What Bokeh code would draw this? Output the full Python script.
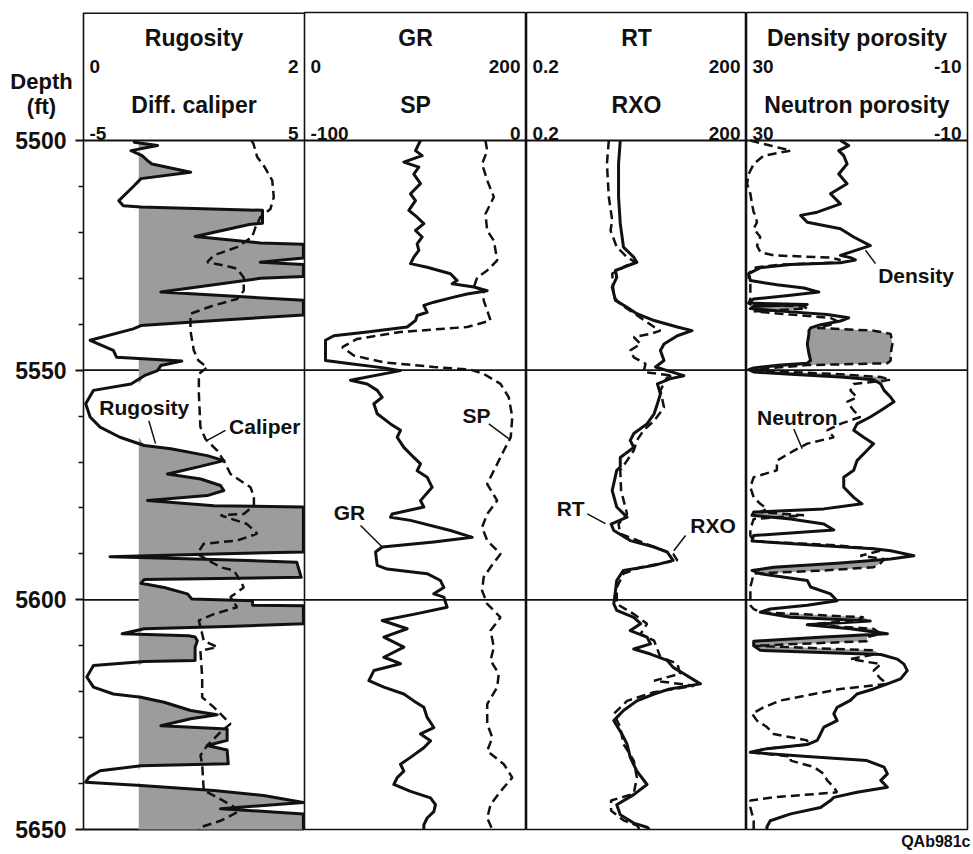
import numpy as np
from bokeh.plotting import figure
from bokeh.layouts import row
from bokeh.models import Range1d, FixedTicker, Span, Title, LinearAxis
from bokeh.embed import file_html
from bokeh.resources import INLINE
from bokeh.core.properties import value

# ---------------- data ----------------
# Track 1: rugosity (0-2) and differential caliper (-5..5)
rug_depth = [5500.0, 5500.4, 5501.1, 5502.2, 5503.3, 5504.4, 5505.1, 5506.9, 5508.3, 5509.8,
             5513.1, 5514.2, 5514.5, 5515.2, 5518.0, 5518.3, 5520.9, 5522.3, 5522.6, 5525.6,
             5526.0, 5526.5, 5527.0, 5529.6, 5530.0, 5533.0, 5534.8, 5538.0, 5539.0, 5540.3,
             5541.0, 5543.5, 5545.7, 5547.2, 5548.0, 5549.0, 5550.1, 5551.2, 5553.0, 5554.4,
             5557.3, 5560.2, 5562.4, 5564.6, 5566.4, 5567.1, 5568.6, 5569.7, 5571.1, 5572.6,
             5573.7, 5575.1, 5576.2, 5577.3, 5578.4, 5579.5, 5579.8, 5589.6, 5590.0, 5590.6,
             5591.2, 5591.8, 5595.1, 5595.6, 5596.4, 5597.3, 5598.7, 5599.8, 5600.2, 5601.2,
             5601.3, 5605.2, 5605.8, 5606.3, 5607.4, 5607.8, 5608.1, 5608.9, 5610.3, 5613.2,
             5613.4, 5614.3, 5616.8, 5619.0, 5620.5, 5621.2, 5622.3, 5624.1, 5625.0, 5625.9,
             5627.4, 5628.1, 5630.6, 5631.7, 5632.7, 5635.7, 5636.1, 5637.2, 5638.6, 5639.7,
             5640.4, 5641.5, 5642.6, 5644.1, 5645.5, 5646.6, 5650.0]
rugosity = [0.46, 0.46, 0.67, 0.43, 0.53, 0.58, 0.62, 0.97, 0.52, 0.46,
            0.32, 0.36, 0.52, 1.62, 1.62, 1.50, 1.01, 1.60, 1.99, 1.99,
            1.80, 1.60, 1.99, 1.99, 1.60, 0.70, 1.99, 1.99, 1.30, 0.52,
            0.45, 0.06, 0.27, 0.30, 0.89, 0.70, 0.67, 0.55, 0.43, 0.09,
            0.02, 0.06, 0.15, 0.33, 0.55, 0.79, 1.12, 1.27, 1.03, 0.76,
            1.06, 1.24, 1.27, 1.12, 0.58, 1.18, 1.99, 1.99, 1.18, 0.24,
            1.18, 1.93, 1.97, 0.55, 0.52, 0.73, 0.94, 0.98, 1.53, 1.53,
            1.99, 1.99, 1.30, 0.55, 0.35, 0.95, 1.01, 1.03, 1.01, 1.01,
            0.55, 0.09, 0.03, 0.09, 0.27, 0.52, 0.73, 0.97, 1.21, 0.97,
            0.70, 1.30, 1.30, 1.12, 1.30, 1.31, 0.52, 0.15, 0.05, 0.02,
            0.52, 1.18, 1.63, 1.99, 1.24, 1.99, 1.99]

cal_depth = [5500.0, 5500.7, 5503.6, 5505.8, 5508.7, 5512.3, 5514.9, 5516.7, 5518.9, 5521.0,
             5523.2, 5525.0, 5526.5, 5527.2, 5527.9, 5529.8, 5532.7, 5534.5, 5535.9, 5537.7,
             5541.4, 5545.7, 5547.9, 5549.4, 5550.8, 5555.2, 5562.4, 5565.0, 5567.5, 5569.7,
             5572.6, 5575.5, 5577.6, 5579.5, 5581.3, 5581.6, 5583.5, 5585.6, 5587.1, 5587.8,
             5590.0, 5592.9, 5593.6, 5595.8, 5597.3, 5599.4, 5601.6, 5603.1, 5604.5, 5607.4,
             5608.9, 5610.3, 5611.1, 5616.8, 5621.2, 5623.4, 5627.0, 5628.8, 5631.7, 5633.9,
             5635.7, 5641.5, 5643.0, 5645.9, 5648.1, 5649.5, 5650.0]
caliper = [2.6, 2.69, 2.86, 3.2, 3.54, 3.61, 3.46, 3.0, 2.78, 2.63,
           1.95, 0.90, 0.60, 1.35, 1.95, 2.25, 2.25, 1.95, 0.90, -0.16,
           -0.16, -0.01, 0.2, 0.60, 0.22, 0.22, 0.29, 0.52, 1.05, 1.35,
           1.65, 2.56, 2.71, 2.71, 2.25, 1.2, 2.4, 2.86, 1.95, 0.44,
           0.14, 1.2, 1.8, 2.1, 2.25, 1.65, 1.95, 0.90, 0.22, 0.37,
           0.44, 1.05, 0.29, 0.37, 0.37, 0.90, 1.65, 1.2, 0.6, 0.29,
           0.37, 0.44, 1.05, 2.1, 1.2, 0.29, 0.2]

# Track 2: GR (0-200 API) and SP (-100..0 mV)
gr_depth = [5500.0, 5502.2, 5503.3, 5504.7, 5505.8, 5507.3, 5509.4, 5511.6, 5513.1, 5515.2,
            5516.7, 5518.1, 5519.6, 5521.0, 5522.5, 5523.9, 5525.4, 5526.8, 5527.6, 5529.0,
            5530.5, 5531.2, 5531.9, 5532.7, 5533.4, 5534.1, 5535.2, 5535.9, 5537.4, 5538.1,
            5539.2, 5540.6, 5541.7, 5542.5, 5543.5, 5547.9, 5548.6, 5549.5, 5550.1, 5552.2,
            5553.0, 5554.4, 5555.9, 5557.3, 5559.5, 5561.7, 5563.1, 5564.6, 5566.8, 5569.0,
            5570.4, 5571.9, 5573.3, 5575.5, 5578.4, 5579.8, 5581.3, 5582.0, 5582.7, 5584.9,
            5586.4, 5587.4, 5588.5, 5589.6, 5592.5, 5593.3, 5594.3, 5595.8, 5597.3, 5598.7,
            5599.4, 5601.6, 5603.0, 5604.5, 5606.3, 5608.1, 5610.3, 5612.5, 5613.9, 5615.4,
            5617.6, 5619.0, 5620.5, 5622.0, 5623.4, 5625.6, 5627.8, 5629.2, 5630.7, 5632.2,
            5634.3, 5635.8, 5637.3, 5638.7, 5640.2, 5641.7, 5643.1, 5644.6, 5646.1, 5647.5,
            5649.0, 5650.0]
gr = [104.5, 100.0, 106.0, 89.5, 103.0, 98.5, 104.5, 95.5, 100.0, 94.0,
      101.5, 107.5, 100.0, 106.0, 101.5, 103.0, 98.5, 95.5, 110.5, 131.5,
      137.5, 133.0, 152.6, 164.6, 146.5, 134.5, 116.5, 107.5, 110.5, 101.5,
      100.0, 92.5, 56.5, 26.4, 18.9, 18.9, 41.4, 71.5, 86.5, 41.4,
      56.5, 65.5, 70.0, 62.5, 65.5, 77.5, 86.5, 83.5, 89.5, 98.5,
      104.5, 101.5, 110.5, 115.0, 104.5, 107.5, 79.0, 77.5, 95.5, 131.5,
      151.1, 116.5, 70.0, 64.0, 65.5, 74.5, 110.5, 122.5, 125.5, 116.5,
      125.5, 128.5, 101.5, 70.0, 92.5, 71.5, 89.5, 71.5, 86.5, 62.5,
      58.0, 71.5, 89.5, 98.5, 107.5, 110.5, 116.5, 104.5, 113.5, 107.5,
      95.5, 86.5, 89.5, 83.5, 80.5, 95.5, 113.5, 118.0, 116.5, 110.5,
      107.5, 107.5]

sp_depth = [5500.0, 5502.2, 5505.1, 5508.7, 5512.3, 5516.0, 5519.6, 5521.8, 5526.1, 5528.3,
            5529.8, 5531.9, 5532.7, 5534.8, 5537.0, 5539.2, 5540.6, 5541.7, 5543.2, 5545.0,
            5546.8, 5548.3, 5549.3, 5549.9, 5550.8, 5553.0, 5555.9, 5560.2, 5564.6, 5567.5,
            5570.4, 5573.3, 5574.8, 5578.4, 5581.3, 5584.2, 5587.1, 5590.0, 5592.9, 5595.1,
            5598.0, 5600.9, 5603.8, 5606.7, 5610.3, 5613.2, 5616.1, 5619.0, 5622.7, 5627.0,
            5630.0, 5632.9, 5635.8, 5638.7, 5641.7, 5644.6, 5647.5, 5650.0]
sp = [-18.5, -17.7, -20.0, -17.7, -14.7, -18.5, -17.7, -14.7, -13.2, -17.7,
      -22.2, -23.7, -19.3, -19.3, -17.7, -16.2, -26.7, -56.8, -76.3, -83.0,
      -77.8, -64.3, -41.7, -25.2, -19.3, -11.7, -8.0, -6.4, -7.1, -10.2,
      -13.2, -16.2, -17.7, -13.2, -17.7, -20.0, -17.7, -11.7, -16.2, -19.3,
      -20.0, -17.7, -11.7, -16.2, -14.7, -16.2, -12.5, -13.2, -17.7, -17.7,
      -15.4, -17.7, -10.2, -6.4, -11.7, -16.2, -17.7, -15.4]

# Track 3: RT and RXO (ohm-m, log 0.2-200)
rt_depth = [5500.0, 5505.1, 5512.3, 5518.1, 5523.2, 5525.4, 5526.5, 5527.6, 5528.3, 5529.8,
            5531.9, 5534.8, 5536.3, 5537.7, 5539.2, 5540.6, 5541.4, 5542.5, 5544.3, 5545.7,
            5547.9, 5549.3, 5550.1, 5551.2, 5551.9, 5553.0, 5555.2, 5557.3, 5559.5, 5561.7,
            5563.8, 5565.3, 5566.8, 5569.0, 5571.1, 5571.8, 5576.2, 5579.8, 5582.0, 5583.5,
            5584.9, 5587.1, 5588.5, 5589.6, 5591.4, 5592.5, 5593.6, 5595.8, 5600.9, 5602.3,
            5603.8, 5605.2, 5606.7, 5608.1, 5609.6, 5610.7, 5611.8, 5613.2, 5614.7, 5616.1,
            5618.3, 5619.4, 5620.5, 5622.0, 5624.1, 5626.3, 5629.2, 5631.4, 5634.3, 5637.3,
            5640.2, 5642.4, 5644.6, 5646.8, 5648.6, 5649.5, 5650.0]
rt = [3.8, 3.6, 3.6, 3.8, 4.2, 5.8, 6.4, 4.2, 3.27, 3.4,
      2.95, 3.27, 4.7, 6.4, 11.0, 22.8, 36.2, 22.8, 15.0, 13.4,
      15.0, 11.5, 16.6, 28.0, 18.0, 12.2, 13.4, 12.2, 11.0, 8.8,
      5.8, 5.2, 5.8, 3.8, 3.8, 3.4, 2.95, 3.4, 4.7, 2.85,
      3.1, 5.2, 11.0, 16.6, 20.0, 11.0, 4.2, 3.4, 3.1, 3.4,
      5.8, 7.2, 5.2, 8.8, 9.8, 5.8, 9.8, 16.6, 20.0, 28.0,
      47.0, 18.0, 11.0, 6.4, 4.2, 3.1, 4.0, 4.7, 5.2, 6.4,
      8.8, 5.8, 3.4, 3.8, 5.8, 8.8, 9.5]

rxo_depth = [5500.0, 5505.1, 5512.3, 5517.4, 5519.6, 5523.2, 5525.4, 5526.5, 5527.2, 5529.0,
             5534.1, 5535.6, 5540.6, 5541.4, 5542.1, 5542.8, 5544.3, 5545.7, 5547.2, 5548.6,
             5550.4, 5551.2, 5551.5, 5554.4, 5558.1, 5561.0, 5563.1, 5565.3, 5567.5, 5569.7,
             5571.8, 5576.2, 5581.3, 5583.5, 5585.6, 5588.5, 5590.0, 5591.4, 5592.9, 5594.3,
             5597.3, 5600.9, 5603.1, 5605.2, 5607.4, 5608.9, 5612.5, 5613.9, 5616.1, 5617.6,
             5618.7, 5620.1, 5622.0, 5624.8, 5627.7, 5631.4, 5635.0, 5638.7, 5642.2, 5643.7,
             5645.9, 5648.0, 5649.1, 5650.0]
rxo = [2.65, 2.5, 2.65, 2.95, 2.8, 3.4, 4.7, 6.1, 4.7, 2.95,
       3.1, 3.8, 11.0, 13.4, 9.8, 5.8, 7.2, 5.2, 5.8, 8.4,
       7.9, 20.0, 16.6, 13.4, 15.0, 11.0, 7.9, 6.4, 5.8, 4.7,
       3.8, 3.9, 4.7, 3.6, 3.8, 11.0, 20.0, 22.8, 7.2, 4.2,
       3.4, 3.4, 5.8, 8.8, 7.2, 11.0, 13.4, 22.8, 24.9, 11.0,
       38.6, 11.0, 4.7, 3.1, 3.8, 4.2, 5.8, 6.4, 5.8, 2.85,
       2.85, 4.2, 6.4, 7.0]

# Track 4: density and neutron porosity (%, 30..-10), common depths
por_depth = [5500.0, 5501.1, 5502.2, 5503.3, 5505.1, 5507.3, 5509.4, 5511.6, 5513.8, 5515.6,
             5516.3, 5517.8, 5519.2, 5521.0, 5522.9, 5524.3, 5525.0, 5525.5, 5526.0, 5526.6,
             5527.0, 5527.7, 5529.0, 5530.5, 5531.4, 5532.1, 5533.0, 5533.7, 5534.5, 5535.4,
             5535.7, 5536.1, 5536.6, 5537.2, 5537.9, 5538.6, 5539.3, 5540.1, 5540.8, 5541.4,
             5542.1, 5544.3, 5546.4, 5547.9, 5548.5, 5548.9, 5549.5, 5549.9, 5550.4, 5550.9,
             5551.5, 5552.1, 5553.0, 5554.4, 5555.9, 5556.9, 5558.8, 5560.2, 5561.7, 5563.1,
             5564.6, 5566.0, 5567.5, 5569.7, 5571.8, 5573.3, 5575.5, 5577.7, 5579.1, 5580.2,
             5580.9, 5581.6, 5582.4, 5583.5, 5584.8, 5586.0, 5587.2, 5588.2, 5588.9, 5589.3,
             5590.4, 5591.1, 5592.0, 5592.9, 5593.6, 5594.3, 5595.8, 5597.2, 5598.7, 5600.2,
             5601.2, 5602.0, 5602.7, 5603.8, 5604.6, 5605.4, 5606.3, 5607.4, 5608.1, 5609.0,
             5610.0, 5611.0, 5611.9, 5612.9, 5614.0, 5615.4, 5617.2, 5618.3, 5619.4, 5620.5,
             5621.9, 5623.4, 5624.8, 5626.3, 5627.7, 5629.2, 5630.6, 5631.5, 5632.4, 5633.2,
             5634.1, 5635.0, 5636.4, 5637.9, 5639.3, 5640.8, 5641.9, 5643.0, 5643.7, 5645.2,
             5646.6, 5648.1, 5649.4, 5650.0]
density = [13.0, 11.5, 13.3, 12.4, 11.8, 13.3, 11.8, 14.8, 13.0, 17.2,
           20.2, 19.0, 13.0, 10.6, 7.6, 11.2, 13.0, 11.2, 10.3, 13.0,
           22.0, 27.5, 29.6, 29.3, 24.5, 19.6, 16.9, 22.0, 28.7, 29.6,
           19.0, 28.7, 29.3, 23.2, 15.4, 11.5, 13.0, 16.6, 18.4, 18.7,
           18.7, 19.0, 18.7, 18.4, 19.0, 23.8, 28.7, 29.6, 28.7, 22.0,
           13.0, 7.0, 5.7, 5.1, 3.9, 3.3, 5.7, 7.6, 10.0, 10.6,
           8.8, 7.0, 8.2, 10.0, 10.6, 12.4, 12.4, 10.6, 9.1, 16.0,
           28.7, 29.0, 22.0, 16.0, 14.2, 28.7, 29.0, 16.0, 7.0, 3.9,
           -0.3, 3.9, 13.0, 25.1, 29.0, 27.5, 19.0, 18.4, 14.8, 13.6,
           19.0, 25.7, 27.5, 22.0, 7.6, 19.0, 11.2, 4.5, 16.0, 28.7,
           28.7, 27.5, 5.7, 2.7, 1.5, 0.9, 2.1, 4.5, 7.0, 10.0,
           11.2, 13.6, 14.2, 13.6, 16.0, 16.6, 17.2, 19.0, 26.3, 29.3,
           19.0, 8.2, 5.1, 4.5, 5.7, 4.5, 10.0, 14.2, 14.8, 16.6,
           22.0, 25.7, 26.3, 26.3]
neutron = [29.3, 25.7, 22.0, 26.9, 28.7, 29.6, 29.9, 29.3, 29.0, 28.7,
           28.4, 28.1, 28.7, 27.5, 28.1, 27.5, 25.1, 14.8, 13.0, 14.2,
           23.8, 28.7, 29.6, 29.6, 29.3, 29.3, 29.3, 29.3, 29.3, 29.6,
           29.3, 19.6, 19.0, 28.7, 22.0, 14.8, 13.6, 14.8, 17.2, 7.0,
           3.9, 3.6, 3.9, 3.9, 4.5, 19.0, 25.1, 28.7, 22.0, 13.0,
           5.7, 3.9, 10.6, 11.2, 10.0, 11.8, 10.6, 9.4, 13.0, 15.4,
           14.2, 19.0, 21.4, 24.5, 24.5, 28.7, 29.3, 28.7, 27.5, 26.3,
           27.5, 19.6, 28.7, 29.0, 29.3, 29.3, 28.7, 13.0, 7.0, 5.7,
           9.4, 5.1, 5.7, 7.0, 16.0, 28.7, 29.0, 29.3, 29.3, 29.3,
           29.3, 28.7, 27.5, 8.8, 11.2, 19.0, 7.0, 5.7, 8.2, 8.2,
           28.7, 7.0, 7.0, 11.2, 5.7, 7.0, 5.7, 4.5, 13.0, 17.8,
           23.8, 26.9, 29.0, 28.1, 26.3, 25.1, 19.0, 19.0, 26.3, 29.3,
           22.0, 22.0, 17.8, 16.0, 15.4, 14.2, 13.6, 25.1, 29.3, 29.3,
           29.0, 28.7, 28.7, 28.7]

# header scales: (name, left value, right value)
track_scales = [
    [("Rugosity", "0", "2"), ("Diff. caliper", "-5", "5")],
    [("GR", "0", "200"), ("SP", "-100", "0")],
    [("RT", "0.2", "200"), ("RXO", "0.2", "200")],
    [("Density porosity", "30", "-10"), ("Neutron porosity", "30", "-10")],
]
depth_ticks = [5500, 5550, 5600, 5650]
depth_minor = [5510, 5520, 5530, 5540, 5560, 5570, 5580, 5590, 5610, 5620, 5630, 5640]
depth_title = ["Depth", "(ft)"]
figure_code = "QAb981c"

# ---------------- layout constants ----------------
FONT = value("Liberation Sans")
PXFT = 689 / 150.0
FRAME_H = 817
TOP = 5650 - FRAME_H / PXFT
EXTRA_BOTTOM = 18                 # px of track-1 frame below 5650 (room for the 5650 label)
INK = "#111111"
SHADE = "#9c9c9c"
SOLID_W = 3.0
DASH_W = 2.5
DASH = "9 5"
GUTTER = 83 / 110.5               # left margin of track 1, in rugosity units

ROW1_Y = 5477.6
ROW2_Y = 5483.9
ROW3_Y = 5492.2
ROW4_Y = 5498.4
GRID_LINES = [(5500, 2.2), (5550, 1.6), (5600, 1.6)]


def make_track(x_range, frame_w, right=0, bottom=25, log=False, extra=0):
    kw = dict(frame_width=frame_w, frame_height=FRAME_H + extra, x_range=x_range,
              y_range=Range1d(5650 + extra / PXFT, TOP), output_backend="svg",
              toolbar_location=None, x_axis_location=None, y_axis_location=None,
              min_border_left=0, min_border_right=right, min_border_top=12,
              min_border_bottom=bottom - extra, background_fill_color="white",
              border_fill_color="white")
    if log:
        kw["x_axis_type"] = "log"
    p = figure(**kw)
    p.outline_line_color = INK
    p.outline_line_width = 1.6
    p.xgrid.visible = False
    p.ygrid.visible = False
    for g in p.grid:
        g.visible = False
    return p


def add_grid(p):
    for d, w in GRID_LINES:
        p.add_layout(Span(location=d, dimension="width", line_color=INK, line_width=w))


def header(p, scales, lo, hi, lo2, hi2, mid, rname=None):
    (n1, a1, b1), (n2, a2, b2) = scales
    common = dict(text_font=FONT, text_font_style="bold", text_color=INK,
                  text_baseline="middle")
    p.text(x=[mid], y=[ROW1_Y], text=[n1], text_align="center", text_font_size="23px", **common)
    p.text(x=[mid], y=[ROW3_Y], text=[n2], text_align="center", text_font_size="23px", **common)
    p.text(x=[lo], y=[ROW2_Y], text=[a1], text_align="left", x_offset=6, text_font_size="19px", **common)
    p.text(x=[hi], y=[ROW2_Y], text=[b1], text_align="right", x_offset=-6, text_font_size="19px", **common)
    kw2 = {} if rname is None else {"x_range_name": rname}
    p.text(x=[lo2], y=[ROW4_Y], text=[a2], text_align="left", x_offset=6, text_font_size="19px", **common, **kw2)
    p.text(x=[hi2], y=[ROW4_Y], text=[b2], text_align="right", x_offset=-6, text_font_size="19px", **common, **kw2)


def note(p, x, y, txt, x0, y0, x1, y1):
    p.text(x=[x], y=[y], text=[txt], text_align="center", text_baseline="middle",
           text_font=FONT, text_font_style="bold", text_font_size="21px", text_color=INK)
    p.segment(x0=[x0], y0=[y0], x1=[x1], y1=[y1], line_color=INK, line_width=1.5)


# ---------------- track 1 (frame also holds the depth gutter) ----------------
p1 = make_track(Range1d(-GUTTER, 2), 304, extra=EXTRA_BOTTOM)
p1.outline_line_color = None
p1.segment(x0=[0, 2], y0=[TOP, TOP], x1=[0, 2], y1=[5650, 5650],
           line_color=INK, line_width=1.6)
p1.segment(x0=[0], y0=[TOP], x1=[2], y1=[TOP], line_color=INK, line_width=3.2)
p1.segment(x0=[0], y0=[5650], x1=[2], y1=[5650], line_color=INK, line_width=1.8)
for d, w in GRID_LINES:
    p1.segment(x0=[0], y0=[d], x1=[2], y1=[d], line_color=INK, line_width=w)

p1.extra_x_ranges = {"cal": Range1d(-5 - 5 * GUTTER, 5)}
rug_arr = np.array(rugosity)
p1.harea(x1=np.full(len(rug_arr), 0.5), x2=np.maximum(rug_arr, 0.5), y=rug_depth,
         fill_color=SHADE, fill_alpha=1.0)
p1.line(rugosity, rug_depth, line_color=INK, line_width=SOLID_W, line_join="round")
p1.line(caliper, cal_depth, x_range_name="cal", line_color=INK, line_width=DASH_W, line_dash=DASH)
header(p1, track_scales[0], 0.0, 2.0, -5.0, 5.0, 1.0, rname="cal")
note(p1, 0.55, 5558.1, "Rugosity", 0.591, 5561.0, 0.652, 5566.0)
note(p1, 1.64, 5562.3, "Caliper", 1.285, 5563.1, 1.119, 5565.3)

p1.text(x=[-0.38, -0.38], y=[5487.2, 5492.5], text=depth_title, text_align="center",
        text_baseline="middle", text_font=FONT, text_font_style="bold",
        text_font_size="22px", text_color=INK)

ax = LinearAxis(fixed_location=0)
ax.ticker = FixedTicker(ticks=depth_ticks, minor_ticks=depth_minor)
ax.axis_line_color = None
ax.major_tick_out = 8
ax.major_tick_in = 0
ax.minor_tick_out = 5
ax.minor_tick_in = 0
ax.major_tick_line_color = INK
ax.major_tick_line_width = 2
ax.minor_tick_line_color = INK
ax.minor_tick_line_width = 1.4
ax.major_label_standoff = 9
ax.major_label_text_font = "Liberation Sans"
ax.major_label_text_font_style = "bold"
ax.major_label_text_font_size = "23px"
ax.major_label_text_color = INK
ax.major_label_orientation = "horizontal"
p1.add_layout(ax, "left")

# ---------------- track 2 ----------------
p2 = make_track(Range1d(0, 200), 222)
add_grid(p2)
p2.extra_x_ranges = {"sp": Range1d(-100, 0)}
p2.line(gr, gr_depth, line_color=INK, line_width=SOLID_W, line_join="round")
p2.line(sp, sp_depth, x_range_name="sp", line_color=INK, line_width=DASH_W, line_dash=DASH)
header(p2, track_scales[1], 0.0, 200.0, -100.0, 0.0, 100.0, rname="sp")
note(p2, 40.5, 5580.9, "GR", 50.5, 5583.8, 70.0, 5588.5)
note(p2, 155.0, 5559.9, "SP", 166.0, 5561.7, 184.0, 5564.9)

# ---------------- track 3 ----------------
p3 = make_track(Range1d(0.2, 200), 220, log=True)
add_grid(p3)
p3.line(rt, rt_depth, line_color=INK, line_width=SOLID_W, line_join="round")
p3.line(rxo, rxo_depth, line_color=INK, line_width=DASH_W, line_dash=DASH)
header(p3, track_scales[2], 0.2, 200.0, 0.2, 200.0, (0.2 * 200.0) ** 0.5)
note(p3, 0.80, 5580.2, "RT", 1.35, 5581.3, 2.39, 5583.4)
note(p3, 69.8, 5583.9, "RXO", 29.5, 5586.0, 20.4, 5589.3)

# ---------------- track 4 ----------------
p4 = make_track(Range1d(30, -10), 221, right=6, bottom=0)
add_grid(p4)
dens = np.array(density)
neut = np.array(neutron)
p4.harea(x1=dens, x2=np.minimum(neut, dens), y=por_depth, fill_color=SHADE, fill_alpha=1.0)
p4.line(density, por_depth, line_color=INK, line_width=SOLID_W, line_join="round")
p4.line(neutron, por_depth, line_color=INK, line_width=DASH_W, line_dash=DASH)
header(p4, track_scales[3], 30.0, -10.0, 30.0, -10.0, 10.0)
note(p4, -0.7, 5529.4, "Density", 6.65, 5526.8, 8.46, 5523.9)
note(p4, 20.8, 5560.2, "Neutron", 21.44, 5562.8, 19.92, 5567.1)
p4.add_layout(Title(text=figure_code, align="right", offset=-3, standoff=3,
                    text_font="Liberation Sans", text_font_style="bold",
                    text_font_size="16px", text_color=INK), "below")

layout = row(p1, p2, p3, p4, spacing=0)
open("out.html", "w").write(file_html(layout, INLINE))
